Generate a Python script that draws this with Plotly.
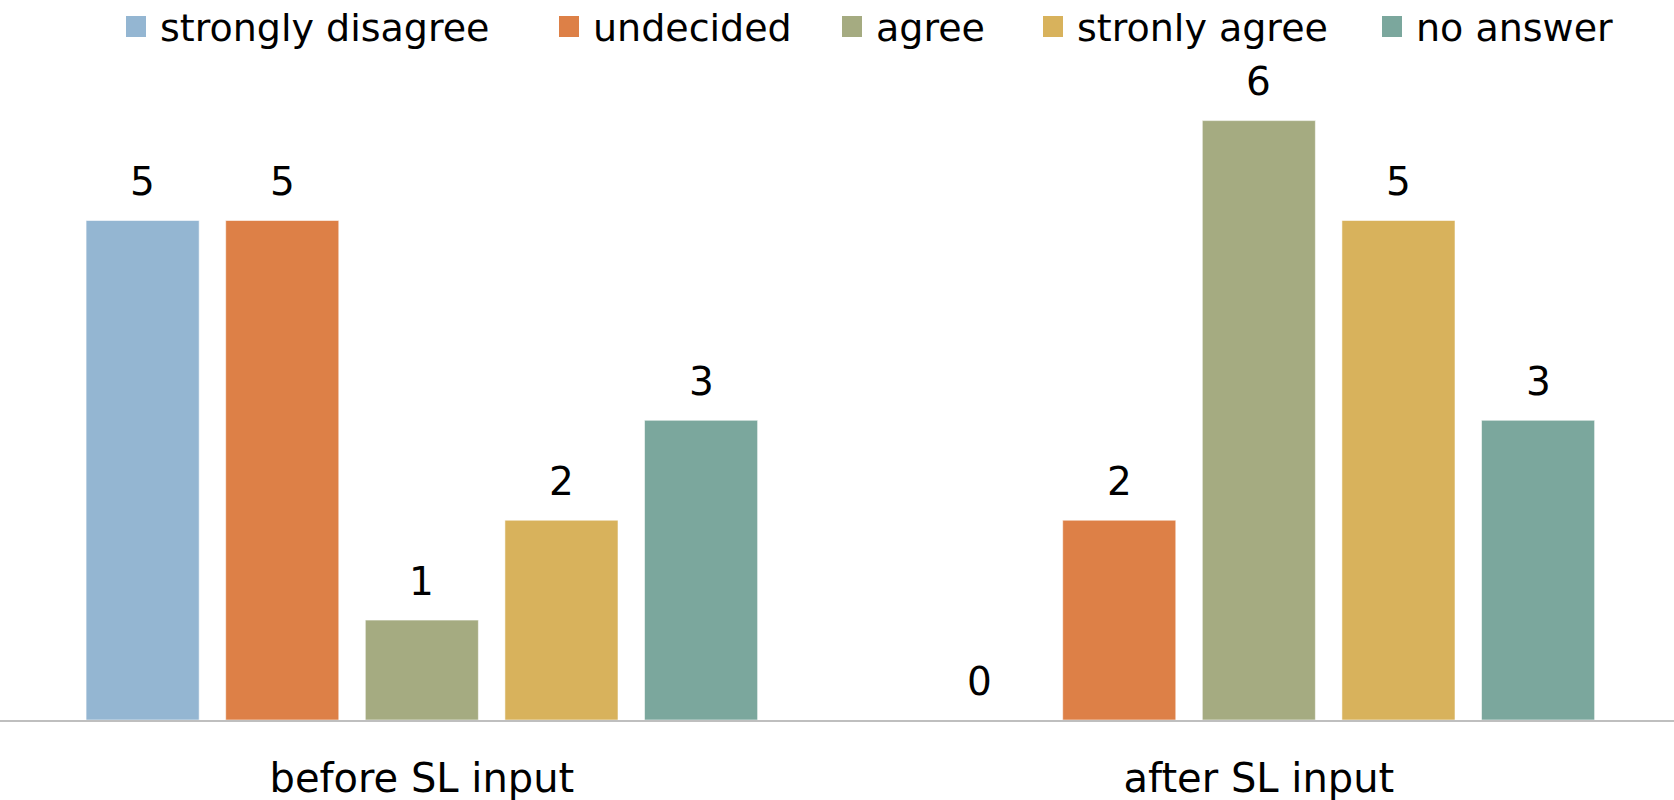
import plotly.graph_objects as go

# Survey responses before / after SL input
categories = ["before SL input", "after SL input"]
series_names = ["strongly disagree", "undecided", "agree", "stronly agree", "no answer"]
strongly_disagree = [5, 0]
undecided = [5, 2]
agree = [1, 6]
strongly_agree = [2, 5]
no_answer = [3, 3]
series_values = [strongly_disagree, undecided, agree, strongly_agree, no_answer]
colors = ["#94B6D2", "#DD8047", "#A5AB81", "#D8B25C", "#7BA79D"]

FONT = "DejaVu Sans"
W, H = 1674, 800
M_TOP, M_BOT = 100, 80
BARGAP, BARGROUPGAP = 0.166, 0.19
UNIT_PX = 99.9  # pixels per response on the value axis
plot_h = H - M_TOP - M_BOT

fig = go.Figure()
for name, vals, col in zip(series_names, series_values, colors):
    fig.add_trace(go.Bar(
        x=categories, y=vals, name=name,
        marker=dict(color=col, line=dict(color="rgba(255,255,255,0.55)", width=1)),
        showlegend=False,
    ))

# value labels above each bar
n = len(series_names)
slot = (1 - BARGAP) / n
for i, vals in enumerate(series_values):
    for j, v in enumerate(vals):
        fig.add_annotation(
            x=j + (i - (n - 1) / 2) * slot, y=v, xref="x", yref="y",
            text=str(v), showarrow=False, yanchor="middle", yshift=39,
            font=dict(family=FONT, size=39, color="#000000"),
        )

# legend row: swatch + label
legend_left_px = [126, 559, 842, 1043, 1382]
def py_to_paper(py):
    return (H - M_BOT - py) / plot_h

for name, col, lx in zip(series_names, colors, legend_left_px):
    fig.add_shape(type="rect", xref="paper", yref="paper",
                  x0=lx / W, x1=(lx + 20) / W,
                  y0=py_to_paper(37), y1=py_to_paper(16),
                  fillcolor=col, line=dict(width=0))
    fig.add_annotation(x=(lx + 32) / W, y=py_to_paper(28), xref="paper", yref="paper",
                       text=name, showarrow=False, xanchor="left", yanchor="middle",
                       font=dict(family=FONT, size=38, color="#000000"))

fig.update_layout(
    width=W, height=H,
    margin=dict(l=0, r=0, t=M_TOP, b=M_BOT),
    paper_bgcolor="white", plot_bgcolor="white",
    barmode="group", bargap=BARGAP, bargroupgap=BARGROUPGAP,
    font=dict(family=FONT, color="#000000"),
)
fig.update_xaxes(
    range=[-0.504, 1.496], automargin=False,
    showline=True, linecolor="#BFBFBF", linewidth=1.5,
    showgrid=False, ticks="", ticklabelstandoff=22,
    tickfont=dict(family=FONT, size=40, color="#000000"),
)
fig.update_yaxes(
    range=[0, plot_h / UNIT_PX], visible=False, showgrid=False, zeroline=False,
    automargin=False,
)

fig.write_html("out.html")
